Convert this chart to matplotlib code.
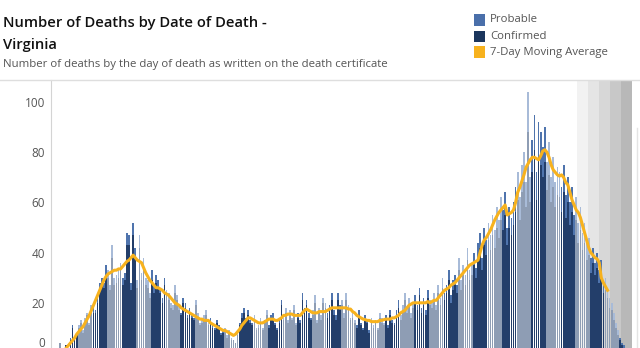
import numpy as np
import matplotlib
matplotlib.use("Agg")
import matplotlib.pyplot as plt
import matplotlib.transforms as mtransforms
from matplotlib.patches import Rectangle

# daily deaths (confirmed + probable)
total = [4, 1, 2, 3, 1, 6, 11, 5, 8, 11,
         13, 9, 14, 16, 12, 19, 18, 17, 23, 28,
         30, 28, 35, 33, 27, 43, 30, 31, 34, 36,
         30, 32, 48, 47, 28, 52, 42, 29, 47, 32,
         38, 30, 29, 24, 33, 27, 31, 29, 26, 22,
         30, 25, 24, 20, 19, 27, 23, 19, 16, 22,
         20, 15, 18, 16, 14, 21, 16, 12, 13, 15,
         17, 12, 14, 11, 10, 13, 11, 8, 9, 10,
         7, 9, 6, 5, 4, 8, 12, 16, 18, 14,
         17, 13, 12, 15, 10, 11, 14, 10, 13, 17,
         11, 15, 16, 12, 10, 13, 21, 14, 18, 13,
         17, 14, 19, 12, 16, 13, 24, 18, 21, 16,
         14, 17, 23, 13, 18, 15, 22, 20, 16, 19,
         24, 17, 15, 24, 19, 21, 16, 24, 19, 14,
         16, 13, 11, 17, 12, 10, 15, 13, 9, 14,
         11, 13, 10, 16, 14, 12, 15, 11, 17, 13,
         12, 17, 21, 15, 19, 24, 18, 22, 16, 20,
         23, 19, 26, 18, 22, 17, 25, 21, 20, 24,
         19, 27, 22, 30, 24, 27, 33, 23, 29, 31,
         27, 38, 29, 35, 31, 42, 33, 36, 40, 34,
         44, 48, 38, 50, 45, 52, 47, 55, 49, 58,
         53, 62, 57, 64, 50, 58, 54, 60, 66, 72,
         62, 75, 80, 68, 104, 70, 85, 95, 72, 92,
         88, 82, 90, 76, 84, 70, 78, 68, 74, 72,
         66, 75, 63, 70, 60, 66, 55, 62, 52, 58,
         48, 52, 44, 46, 38, 42, 36, 40, 33, 37,
         28, 30, 26, 22, 20, 16, 12, 9, 6, 4,
         3, 2]

probable = [0, 0, 0, 0, 0, 1, 1, 0, 1, 1,
            1, 1, 2, 1, 1, 2, 2, 1, 3, 3,
            3, 2, 4, 3, 2, 5, 3, 3, 4, 3,
            3, 3, 5, 4, 3, 5, 4, 3, 5, 3,
            4, 3, 3, 2, 4, 3, 3, 3, 2, 2,
            3, 2, 3, 2, 2, 3, 2, 2, 1, 2,
            2, 1, 2, 2, 1, 2, 2, 1, 1, 2,
            2, 1, 2, 1, 1, 1, 1, 1, 1, 1,
            1, 1, 1, 0, 0, 1, 1, 2, 2, 1,
            2, 1, 1, 2, 1, 1, 2, 1, 1, 2,
            1, 2, 2, 1, 1, 1, 2, 1, 2, 1,
            2, 1, 2, 1, 2, 1, 3, 2, 2, 2,
            1, 2, 3, 1, 2, 2, 2, 2, 2, 2,
            3, 2, 2, 3, 2, 2, 2, 3, 2, 1,
            2, 1, 1, 2, 1, 1, 2, 1, 1, 2,
            1, 1, 1, 2, 2, 1, 2, 1, 2, 1,
            1, 2, 3, 2, 2, 3, 2, 3, 2, 2,
            3, 2, 3, 2, 3, 2, 3, 2, 2, 3,
            2, 3, 3, 4, 3, 3, 4, 3, 4, 4,
            3, 5, 4, 4, 4, 5, 4, 5, 5, 4,
            6, 6, 5, 7, 6, 7, 6, 8, 7, 8,
            7, 9, 8, 9, 7, 8, 7, 9, 10, 11,
            9, 11, 12, 10, 16, 10, 13, 14, 11, 14,
            13, 12, 14, 11, 13, 10, 12, 10, 11, 10,
            10, 11, 9, 10, 9, 10, 8, 9, 8, 9,
            7, 8, 7, 7, 6, 6, 5, 6, 5, 6,
            4, 5, 4, 4, 3, 3, 2, 2, 1, 1,
            1, 0]

# 7-day moving average as drawn
avg7 = [0, 0.5, 1, 2, 3, 4, 5, 6, 7.5, 8.5,
        9.5, 10.5, 12, 13.5, 15, 17, 19, 21, 23, 25,
        27, 29, 30.5, 31.5, 32, 32.5, 33, 33, 33.5, 33.5,
        34.5, 35.5, 36.5, 37, 38, 39, 38, 37, 36.5, 36,
        34, 32, 30.5, 29, 28, 27, 26, 26, 25.5, 25,
        24, 23.5, 23, 22, 21, 20, 19.5, 19, 18, 17.5,
        17, 16.5, 16, 15.5, 15, 14.5, 14, 13.5, 13.5, 13,
        13, 13, 12, 11.5, 11, 10.5, 10, 9.5, 9, 9,
        8.5, 8, 7.5, 7, 7.5, 8.5, 9.5, 11, 12, 13,
        14, 14, 13.5, 13, 12.5, 12, 12, 12, 12.5, 13,
        13.5, 13.5, 13.5, 13, 13, 13.5, 14, 15, 15, 15.5,
        15.5, 15.5, 15, 15, 15, 15, 16, 17, 17.5, 17,
        16.5, 16, 16, 16, 16.5, 16.5, 16.5, 16.5, 17, 17.5,
        18, 18, 18, 18, 18, 18, 18, 18, 17.5, 17.5,
        16.5, 16, 15, 14.5, 14, 13.5, 13.3, 13, 13, 12.5,
        12.5, 12.5, 12.5, 13, 13, 13.3, 13.5, 13.5, 13.5, 14,
        14, 14.5, 15, 16, 16.5, 17, 18, 19, 19.5, 20,
        20, 20, 20, 20, 20, 20, 20.5, 20, 20.5, 21,
        21, 22, 23, 24, 25, 25.5, 26, 27, 27.5, 28,
        29, 30, 31, 32, 33, 34, 35, 35.5, 36, 36.5,
        37, 40, 43, 45, 46, 47.5, 49, 51, 53, 54.5,
        56, 57, 58, 59, 55, 55.5, 56, 57, 60, 64,
        66, 68.5, 71, 74, 75.5, 77, 78, 78, 77.5, 77,
        78.5, 80.5, 81, 80, 78, 75, 73, 72, 71, 70.5,
        71, 70, 68, 67, 64, 61, 59, 57, 56, 54,
        51, 48, 45, 42, 40, 39, 38, 37.5, 36, 30,
        28, 26.5, 25]

total = np.array(total)
probable = np.array(probable)
confirmed = total - probable
days = np.arange(len(total))

# alternating weeks are drawn faded
dark = ((days - 2) // 7) % 2 == 0
conf_col = np.where(dark, "#233e6a", "#8e9db4")
prob_col = np.where(dark, "#4f74ad", "#a8bbd8")

plt.rcParams["font.family"] = ["Open Sans", "DejaVu Sans"]
fig = plt.figure(figsize=(6.4, 3.48), dpi=100)

# zero line sits just below the bottom edge, as in the original
ax = fig.add_axes([50.7 / 640, -5 / 348, (632 - 50.7) / 640, 273 / 348])
ax.set_xlim(-4.45, 273.7)
ax.set_ylim(0, 108.8)

# grey bands marking the most recent (incomplete) period
greys = ["#f2f2f2", "#e5e5e5", "#d7d7d7", "#c8c8c8", "#b8b8b8"]
x0 = (577 - 50.7) / 581.3
bw = 11 / 581.3
for i, g in enumerate(greys):
    ax.add_patch(Rectangle((x0 + i * bw, 0), bw, 1, transform=ax.transAxes,
                           color=g, lw=0, zorder=0))

ax.bar(days, confirmed, width=0.82, color=conf_col, lw=0, zorder=2)
ax.bar(days, probable, width=0.82, bottom=confirmed, color=prob_col, lw=0, zorder=2)
ax.plot(np.arange(len(avg7)), avg7, color="#f7b21e", lw=2.2, zorder=3,
        solid_joinstyle="round")

for s in ["top", "right", "bottom"]:
    ax.spines[s].set_visible(False)
ax.spines["left"].set_color("#d4d4d4")
ax.set_xticks([])
ax.set_yticks([0, 20, 40, 60, 80, 100])
ax.tick_params(axis="y", length=0, pad=4, labelsize=8.5, labelcolor="#555555")

# the "0" label is nudged up so it stays inside the frame
fig.canvas.draw()
zero_lab = ax.get_yticklabels()[0]
zero_lab.set_transform(zero_lab.get_transform() +
                       mtransforms.ScaledTranslation(0, 11 / 100, fig.dpi_scale_trans))

# top border line and faint edge of the neighbouring panel
fig.add_artist(plt.Line2D([0, 1], [1 - 80 / 348] * 2, color="#dedede", lw=1))
fig.add_artist(plt.Line2D([637 / 640] * 2, [0, 1 - 128 / 348], color="#e4e4e4", lw=1))

fig.text(3 / 640, 1 - 23 / 348, "Number of Deaths by Date of Death -", fontsize=10.6,
         fontweight=600, color="#111111", va="center", ha="left")
fig.text(3 / 640, 1 - 45 / 348, "Virginia", fontsize=10.6, fontweight=600,
         color="#111111", va="center", ha="left")
fig.text(3 / 640, 1 - 65 / 348,
         "Number of deaths by the day of death as written on the death certificate",
         fontsize=8.2, color="#555555", va="center", ha="left")

legend = [("Probable", "#4a6faa"), ("Confirmed", "#1b365d"),
          ("7-Day Moving Average", "#f7b21e")]
rows = [20, 36.5, 52]
for (lab, col), y in zip(legend, rows):
    fig.add_artist(Rectangle((474 / 640, 1 - (y + 5.5) / 348), 11 / 640, 11 / 348,
                             transform=fig.transFigure, color=col, lw=0))
    fig.text(490 / 640, 1 - y / 348, lab, fontsize=8.2, color="#555555",
             va="center", ha="left")

fig.savefig("out.png", dpi=100)
